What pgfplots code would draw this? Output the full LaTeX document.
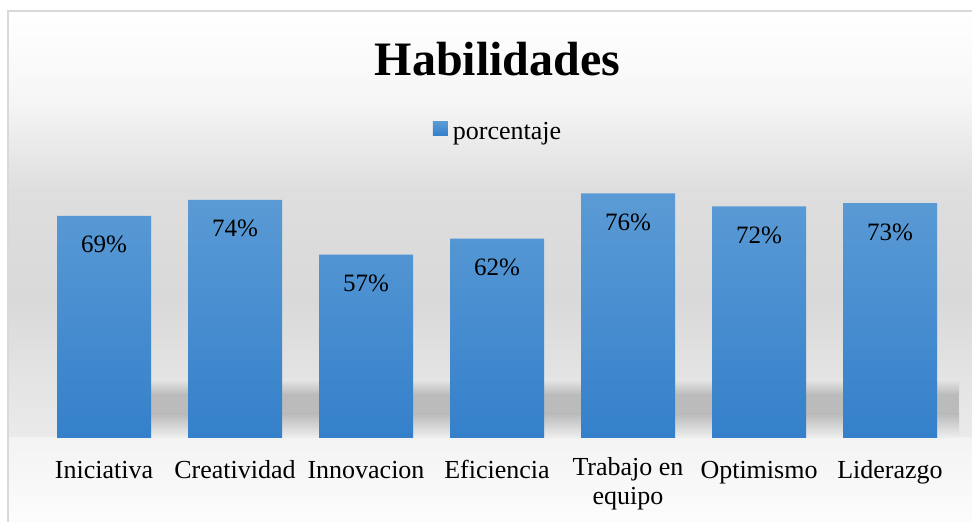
\documentclass[border=0pt]{standalone}
\usepackage{pgfplots}
\pgfplotsset{compat=1.18}
\usepackage{fontspec}
\setmainfont{Liberation Serif}
\definecolor{bartop}{RGB}{91,155,213}
\definecolor{barbot}{RGB}{52,128,202}
\definecolor{framec}{RGB}{217,217,217}
\pgfplotstableread{
x y
0 69
1 74
2 57
3 62
4 76
5 72
6 73
}\datatable
\begin{document}
\begin{tikzpicture}
\clip (0pt,0pt) rectangle (972pt,522pt);
\useasboundingbox (0pt,0pt) rectangle (972pt,522pt);
% background bands (tikz y = 522 - image y)
\shade[top color={rgb,255:red,255;green,255;blue,255}, bottom color={rgb,255:red,246;green,246;blue,246}] (8pt,511pt) rectangle (990pt,422pt);
\shade[top color={rgb,255:red,246;green,246;blue,246}, bottom color={rgb,255:red,238;green,238;blue,238}] (8pt,422.2pt) rectangle (990pt,392pt);
\shade[top color={rgb,255:red,238;green,238;blue,238}, bottom color={rgb,255:red,222;green,222;blue,222}] (8pt,392.2pt) rectangle (990pt,332pt);
\shade[top color={rgb,255:red,222;green,222;blue,222}, bottom color={rgb,255:red,217;green,217;blue,217}] (8pt,332.2pt) rectangle (990pt,222pt);
\shade[top color={rgb,255:red,217;green,217;blue,217}, bottom color={rgb,255:red,228;green,228;blue,228}] (8pt,222.2pt) rectangle (990pt,142pt);
\shade[top color={rgb,255:red,228;green,228;blue,228}, bottom color={rgb,255:red,234;green,234;blue,234}] (8pt,142.2pt) rectangle (990pt,84pt);
\shade[top color={rgb,255:red,243;green,243;blue,243}, bottom color={rgb,255:red,253;green,253;blue,253}] (8pt,84.2pt) rectangle (990pt,-8pt);
% floor shadow
\shade[top color={rgb,255:red,228;green,228;blue,228}, bottom color={rgb,255:red,189;green,189;blue,189}] (57pt,142pt) rectangle (959pt,128pt);
\fill[fill={rgb,255:red,187;green,187;blue,187}] (57pt,128.2pt) rectangle (959pt,108pt);
\shade[top color={rgb,255:red,187;green,187;blue,187}, bottom color={rgb,255:red,238;green,238;blue,238}] (57pt,108.2pt) rectangle (959pt,84.5pt);
% frame
\draw[framec, line width=1.2pt] (8pt,-10pt) -- (8pt,511pt) -- (990pt,511pt);
% title
\node[anchor=base, font=\bfseries\fontsize{48}{56}\selectfont, inner sep=0pt] at (497.5pt,446pt) {Habilidades};
\begin{axis}[
  at={(38.5pt,84pt)}, anchor=south west,
  scale only axis, width=917pt, height=257.4pt,
  xmin=-0.5, xmax=6.5, ymin=0, ymax=80,
  axis line style={draw=none},
  tick style={draw=none},
  major tick length=0pt,
  ytick=\empty,
  xtick=data,
  /pgf/number format/assume math mode=true,
  xticklabels={Iniciativa,Creatividad,Innovacion,Eficiencia,{Trabajo en\\equipo},Optimismo,Liderazgo},
  xticklabel style={anchor=north, align=center, inner sep=0pt, yshift=-19.7pt,
    font=\fontsize{26}{29}\selectfont, execute at begin node=\strut},
  ybar, bar width=94pt,
  nodes near coords={\pgfmathprintnumber{\pgfplotspointmeta}\%},
  nodes near coords style={anchor=base, yshift=-37pt, font=\fontsize{25}{30}\selectfont, text=black},
  legend style={at={(0.5,1)}, anchor=center, yshift=49.6pt, draw=none, fill=none, inner sep=0pt,
    nodes={inner sep=0pt}, font=\fontsize{26}{30}\selectfont},
  legend image code/.code={\fill[top color=bartop, bottom color=barbot] (0pt,-4pt) rectangle (15pt,10pt); \path (20pt,0pt);},
]
\addplot[draw=none, top color=bartop, bottom color=barbot] table[x=x, y=y] {\datatable};
\legend{porcentaje}
\end{axis}
\end{tikzpicture}
\end{document}
